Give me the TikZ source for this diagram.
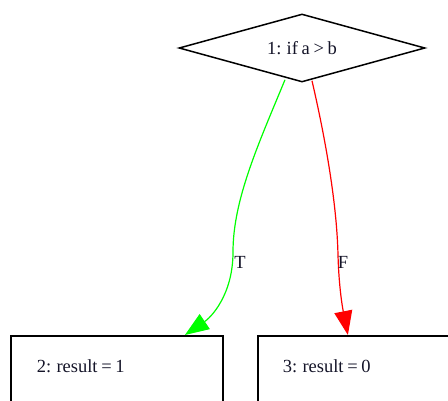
\documentclass[tikz,border=0pt]{standalone}
\usepackage{fontspec}
\setmainfont[WordSpace=0.8]{Liberation Serif}
\usetikzlibrary{shapes.geometric,arrows.meta}
\begin{document}
\begin{tikzpicture}[x=1pt,y=-1pt,
  every node/.style={font=\fontsize{18.5}{21}\selectfont,text={rgb,255:red,20;green,20;blue,40}},
  decision/.style={diamond,draw,line width=1.5pt,minimum width=246pt,minimum height=68pt,aspect=3.6,inner sep=0pt},
  stmt/.style={rectangle,draw,line width=1.8pt,minimum width=212pt,inner xsep=0pt,inner ysep=0pt,text height=37pt,text depth=45pt},
  edgeT/.style={draw={rgb,255:red,0;green,255;blue,0},line width=1.2pt,-{Triangle[length=24pt,width=18pt]}},
  edgeF/.style={draw={rgb,255:red,255;green,0;blue,0},line width=1.2pt,-{Triangle[length=24pt,width=18pt]}},
  lbl/.style={inner sep=0pt}]
\useasboundingbox (0,0) rectangle (448,400);
\clip (0,0) rectangle (448,400);
\node[decision] (d) at (302,48) {1: if a > b};
\node[stmt,anchor=north west] (b1) at (10,335) {\makebox[160pt][l]{2: result = 1}};
\node[stmt,anchor=north west,minimum width=214pt] (b2) at (257,335) {\makebox[164pt][l]{3: result = 0}};
\coordinate (ts) at ([xshift=-17pt,yshift=3pt]d.south);
\coordinate (fs) at ([xshift=10pt,yshift=2pt]d.south);
\coordinate (te) at ([xshift=68pt]b1.north);
\coordinate (fe) at ([xshift=-17pt]b2.north);
\draw[edgeT] (ts) .. controls (258,145) and (233,200) .. (233,252) .. controls (233,296) and (210,318) .. (te);
\draw[edgeF] (fs) .. controls (328,150) and (337,210) .. (338,255) .. controls (339,290) and (343,310) .. (fe);
\node[lbl] (lt) at (240,262) {T};
\node[lbl] (lf) at (343,262) {F};
\end{tikzpicture}
\end{document}
